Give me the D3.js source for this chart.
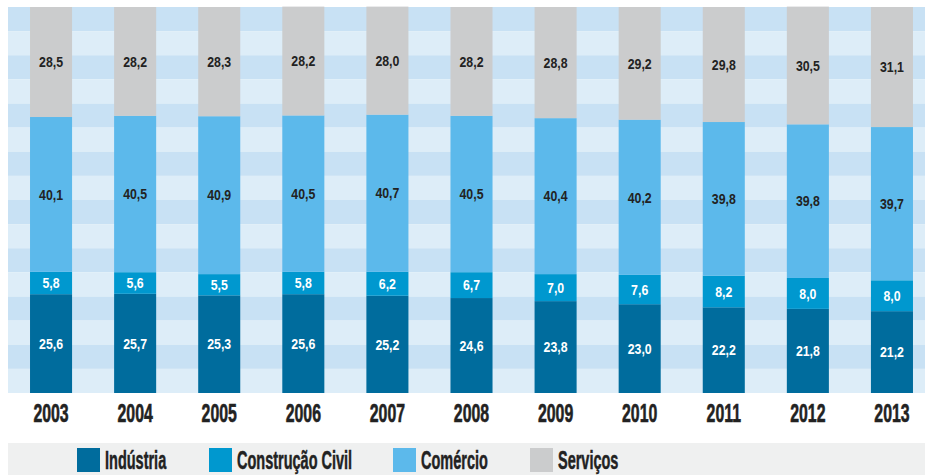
<!DOCTYPE html>
<html><head><meta charset="utf-8">
<script src="https://cdn.jsdelivr.net/npm/d3@7"></script>
<style>
html,body{margin:0;padding:0;background:#fff;}
svg{display:block;}
</style></head>
<body>
<svg id="chart" width="925" height="475"></svg>
<script>
const years = ["2003","2004","2005","2006","2007","2008","2009","2010","2011","2012","2013"];
const industria = [25.6,25.7,25.3,25.6,25.2,24.6,23.8,23.0,22.2,21.8,21.2];
const construcao = [5.8,5.6,5.5,5.8,6.2,6.7,7.0,7.6,8.2,8.0,8.0];
const comercio = [40.1,40.5,40.9,40.5,40.7,40.5,40.4,40.2,39.8,39.8,39.7];
const servicos = [28.5,28.2,28.3,28.2,28.0,28.2,28.8,29.2,29.8,30.5,31.1];
const seriesNames = ["Indústria","Construção Civil","Comércio","Serviços"];
const seriesColors = ["#006c9d","#0098cf","#5cb9eb","#cbcccd"];
const labelColors = ["#ffffff","#ffffff","#222222","#222222"];

const FONT = "'Liberation Sans', Arial, sans-serif";
const svg = d3.select("#chart");
const plotLeft = 8, plotRight = 925, plotTop = 7, plotBottom = 393;

const x = d3.scaleBand().domain(years).range([9, 934]).paddingInner(0.5).paddingOuter(0.25);
const y = d3.scaleLinear().domain([0, 100]).range([plotBottom, plotTop]);

// background stripes
const nStripes = 16;
const stripeUnit = 100 / nStripes;
svg.append("g").selectAll("rect").data(d3.range(nStripes)).join("rect")
  .attr("x", plotLeft).attr("width", plotRight - plotLeft)
  .attr("y", i => y(100 - i * stripeUnit))
  .attr("height", i => y(100 - (i + 1) * stripeUnit) - y(100 - i * stripeUnit))
  .attr("fill", i => i % 2 === 0 ? "#c8e1f4" : "#ddedf8");

const rows = years.map((yr, i) => ({year: yr, s0: industria[i], s1: construcao[i], s2: comercio[i], s3: servicos[i]}));
const stack = d3.stack().keys(["s0","s1","s2","s3"]);
const stacked = stack(rows);

const g = svg.append("g");
stacked.forEach((layer, k) => {
  g.append("g").selectAll("rect").data(layer).join("rect")
    .attr("x", d => x(d.data.year))
    .attr("width", x.bandwidth())
    .attr("y", d => y(d[1]))
    .attr("height", d => y(d[0]) - y(d[1]))
    .attr("fill", seriesColors[k]);
  g.append("g").selectAll("text").data(layer).join("text")
    .attr("transform", d => `translate(${x(d.data.year) + x.bandwidth() / 2},${(y(d[0]) + y(d[1])) / 2}) scale(0.85,1)`)
    .attr("dy", "0.36em")
    .attr("text-anchor", "middle")
    .attr("font-family", FONT)
    .attr("font-weight", "bold")
    .attr("font-size", 14.5)
    .attr("fill", labelColors[k])
    .text(d => (d[1] - d[0]).toFixed(1).replace(".", ","));
});

// x axis labels
const xAxis = d3.axisBottom(x).tickSize(0).tickPadding(0);
const ax = svg.append("g").attr("transform", `translate(0,${plotBottom})`).call(xAxis);
ax.select(".domain").remove();
ax.selectAll(".tick text")
  .attr("y", 0).attr("dy", 0)
  .attr("font-family", FONT)
  .attr("font-weight", "bold")
  .attr("font-size", 26)
  .attr("fill", "#222")
  .attr("stroke", "#222").attr("stroke-width", 0.6)
  .attr("transform", "translate(0,29) scale(0.61,1)");

// legend
svg.append("rect").attr("x", 8).attr("y", 443).attr("width", 917).attr("height", 32).attr("fill", "#eff0f0");
const legendX = [77, 209, 393, 530];
const lg = svg.append("g").selectAll("g").data(seriesNames).join("g")
  .attr("transform", (d, i) => `translate(${legendX[i]},448)`);
lg.append("rect").attr("width", 23).attr("height", 24).attr("fill", (d, i) => seriesColors[i]);
lg.append("text")
  .attr("font-family", FONT)
  .attr("font-weight", "bold")
  .attr("font-size", 25)
  .attr("fill", "#222")
  .attr("stroke", "#222").attr("stroke-width", 0.5)
  .attr("transform", "translate(28,21) scale(0.58,1)")
  .text(d => d);
</script>
</body></html>
